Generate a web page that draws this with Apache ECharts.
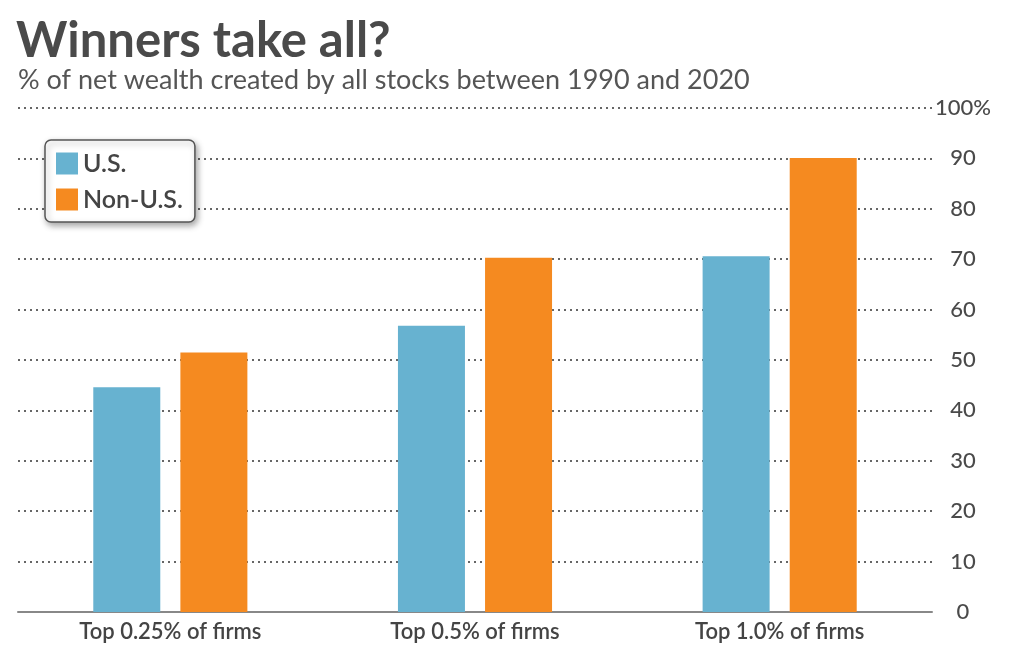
<!DOCTYPE html>
<html><head><meta charset="utf-8">
<script src="https://cdn.jsdelivr.net/npm/echarts@6/dist/echarts.min.js"></script>
<style>html,body{margin:0;padding:0;background:#fff}#c{width:1013px;height:648px}</style>
</head><body><div id="c"></div>
<script>
const categories = ['Top 0.25% of firms', 'Top 0.5% of firms', 'Top 1.0% of firms'];
const usValues = [44.6, 56.8, 70.6];
const nonUsValues = [51.5, 70.3, 90.1];
const seriesNames = ['U.S.', 'Non-U.S.'];

const chart = echarts.init(document.getElementById('c'));
chart.setOption({
  backgroundColor: '#fff',
  animation: false,
  title: [
    { text: 'Winners take all?', left: 11, top: 12,
      textStyle: { fontFamily: 'Lato', fontWeight: 'bold', fontSize: 49, color: '#4a4a4a' } },
    { text: '% of net wealth created by all stocks between 1990 and 2020', left: 13, top: 62,
      textStyle: { fontFamily: 'Lato', fontWeight: 'normal', fontSize: 27, color: '#555' } }
  ],
  legend: {
    orient: 'vertical', left: 45, top: 140,
    data: seriesNames,
    icon: 'rect', itemWidth: 22, itemHeight: 22, itemGap: 11,
    padding: [11, 12, 10, 11],
    backgroundColor: '#fff', borderColor: '#555', borderWidth: 1.5, borderRadius: 6,
    shadowBlur: 6, shadowColor: 'rgba(0,0,0,0.35)', shadowOffsetX: 2, shadowOffsetY: 3,
    textStyle: { fontFamily: 'Lato', fontWeight: 600, fontSize: 25, color: '#444', padding: [0, 0, 0, 0] }
  },
  grid: { left: 18, right: 81, top: 108, bottom: 36 },
  xAxis: {
    type: 'category', data: categories,
    axisTick: { show: false },
    axisLine: { lineStyle: { color: '#888', width: 2 } },
    axisLabel: { fontFamily: 'Lato', fontWeight: 600, fontSize: 22, color: '#444', margin: 9 }
  },
  yAxis: {
    type: 'value', position: 'right', min: 0, max: 100, interval: 10,
    axisLine: { show: false }, axisTick: { show: false },
    axisLabel: {
      fontFamily: 'Lato', fontWeight: 500, fontSize: 22, color: '#4a4a4a', align: 'center', margin: 31,
      formatter: v => v === 100 ? '100%' : String(v)
    },
    splitLine: { lineStyle: { color: '#666', width: 2, type: [2, 4] } }
  },
  series: [
    { name: seriesNames[0], type: 'bar', data: usValues, barWidth: 67, barGap: '30%',
      itemStyle: { color: '#67B2D0' } },
    { name: seriesNames[1], type: 'bar', data: nonUsValues, barWidth: 67,
      itemStyle: { color: '#F58A20' } }
  ]
});
</script></body></html>
